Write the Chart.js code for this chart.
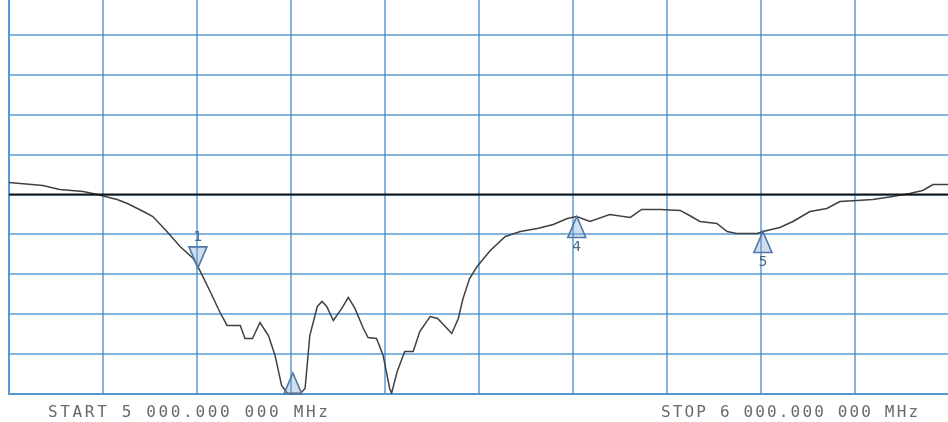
<!DOCTYPE html>
<html>
<head>
<meta charset="utf-8">
<script src="https://cdn.jsdelivr.net/npm/chart.js@4.4.1/dist/chart.umd.min.js"></script>
<style>
  body { margin: 0; background: #fff; width: 948px; height: 422px; overflow: hidden; position: relative; }
  #wrap { position: absolute; left: 0; top: -5px; width: 952px; height: 427px; }
  .freq { position: absolute; top: 402px; font: 16px "DejaVu Sans Mono", monospace; color: #66696e; white-space: pre; }
</style>
</head>
<body>
<div id="wrap"><canvas id="vna"></canvas></div>
<div class="freq" id="startLbl" style="left:48px; letter-spacing:2.65px"></div>
<div class="freq" id="stopLbl" style="left:661px; letter-spacing:2.15px"></div>
<script>
// sweep, MHz
const startFreq = 5000;
const stopFreq = 6000;
const freqStep = 100;
// dB, reference level at centre line, 5 dB/div
const refLevel = 0;
const dbMin = -25;
const dbMax = 25;
const dbPerDiv = 5;

// trace
const traceFreq = [5000, 5036, 5054, 5079, 5094, 5115, 5126, 5143, 5153, 5168, 5182, 5196, 5203, 5214, 5224, 5232, 5246, 5251, 5259, 5267,
  5276, 5283, 5290, 5296, 5310, 5315, 5320, 5328, 5333, 5338, 5345, 5354, 5361, 5368, 5377, 5382, 5391, 5398, 5405, 5407,
  5413, 5421, 5430, 5437, 5448, 5456, 5471, 5478, 5483, 5490, 5498, 5512, 5528, 5544, 5562, 5579, 5594, 5604, 5618, 5639,
  5661, 5673, 5693, 5714, 5724, 5735, 5753, 5764, 5774, 5796, 5802, 5820, 5834, 5852, 5870, 5884, 5902, 5919, 5940, 5958,
  5972, 5983, 6000];
const traceDb = [1.5, 1.13, 0.63, 0.38, 0, -0.63, -1.13, -2.13, -2.76, -4.64, -6.52, -8.02, -9.52, -12.15, -14.66, -16.41, -16.41, -18.04, -18.04, -16.04,
  -17.67, -20.17, -23.93, -24.9, -24.9, -24.3, -17.67, -14.03, -13.4, -14.03, -15.79, -14.28, -12.9, -14.28, -16.79, -17.92, -18.04, -20.17, -24.3, -24.9,
  -22.18, -19.67, -19.67, -17.17, -15.29, -15.54, -17.42, -15.54, -13.03, -10.53, -9.02, -7.02, -5.26, -4.64, -4.26, -3.76, -3.01, -2.76, -3.38, -2.51,
  -2.88, -1.88, -1.88, -2.0, -2.63, -3.38, -3.63, -4.64, -4.89, -4.89, -4.64, -4.13, -3.38, -2.13, -1.75, -0.88, -0.75, -0.63, -0.25, 0.13,
  0.5, 1.25, 1.25];

// markers
const markerNames = ["1", "2", "4", "5"];
const markerFreq = [5201, 5302, 5604, 5802];
const markerDb = [-9.2, -24.9, -2.76, -4.64];
const markerUp = [false, true, true, true];

document.getElementById("startLbl").textContent = "START 5 000.000 000 MHz";
document.getElementById("stopLbl").textContent = "STOP 6 000.000 000 MHz";

const gridBlue = "rgba(55,135,205,0.62)";

const markerPlugin = {
  id: "markers",
  afterDatasetsDraw(chart) {
    const ctx = chart.ctx;
    const xs = chart.scales.x, ys = chart.scales.y;
    const area = chart.chartArea;
    const w = 18, h = 21;
    ctx.save();
    ctx.beginPath();
    ctx.rect(area.left, area.top, area.right - area.left, area.bottom - area.top + 2);
    ctx.clip();
    markerNames.forEach((name, i) => {
      const x = xs.getPixelForValue(markerFreq[i]);
      let tip = ys.getPixelForValue(markerDb[i]);
      let base, labelY;
      if (markerUp[i]) {
        tip = Math.min(tip, area.bottom - h);
        base = tip + h;
        labelY = base + 10;
      } else {
        base = tip - h;
        labelY = base - 10;
      }
      ctx.beginPath();
      ctx.moveTo(x, tip);
      ctx.lineTo(x - w / 2, base);
      ctx.lineTo(x + w / 2, base);
      ctx.closePath();
      ctx.fillStyle = "rgba(120,160,205,0.35)";
      ctx.fill();
      ctx.lineWidth = 1.6;
      ctx.strokeStyle = "#4f78a6";
      ctx.stroke();
      ctx.fillStyle = "#4a6688";
      ctx.font = "14px 'DejaVu Sans'";
      ctx.textAlign = "center";
      ctx.textBaseline = "middle";
      ctx.fillText(name, x, labelY);
    });
    ctx.restore();
  }
};

new Chart(document.getElementById("vna"), {
  type: "scatter",
  data: {
    datasets: [
      {
        label: "ref",
        data: [{ x: startFreq, y: refLevel }, { x: stopFreq, y: refLevel }],
        showLine: true,
        borderColor: "#151515",
        borderWidth: 2,
        pointRadius: 0
      },
      {
        label: "S11",
        data: traceFreq.map((f, i) => ({ x: f, y: traceDb[i] })),
        showLine: true,
        borderColor: "#404040",
        borderWidth: 1.5,
        pointRadius: 0,
        tension: 0
      }
    ]
  },
  options: {
    responsive: true,
    maintainAspectRatio: false,
    animation: false,
    layout: { padding: { left: 9, right: 3, top: 0, bottom: 28 } },
    plugins: { legend: { display: false }, tooltip: { enabled: false } },
    scales: {
      x: {
        type: "linear",
        min: startFreq,
        max: stopFreq,
        ticks: { display: false, stepSize: freqStep },
        grid: { color: gridBlue, lineWidth: 2, drawTicks: false },
        border: { display: true, color: gridBlue, width: 2 }
      },
      y: {
        min: dbMin,
        max: dbMax,
        ticks: { display: false, stepSize: dbPerDiv },
        grid: { color: gridBlue, lineWidth: 2, drawTicks: false },
        border: { display: true, color: gridBlue, width: 2 }
      }
    }
  },
  plugins: [markerPlugin]
});
</script>
</body>
</html>
